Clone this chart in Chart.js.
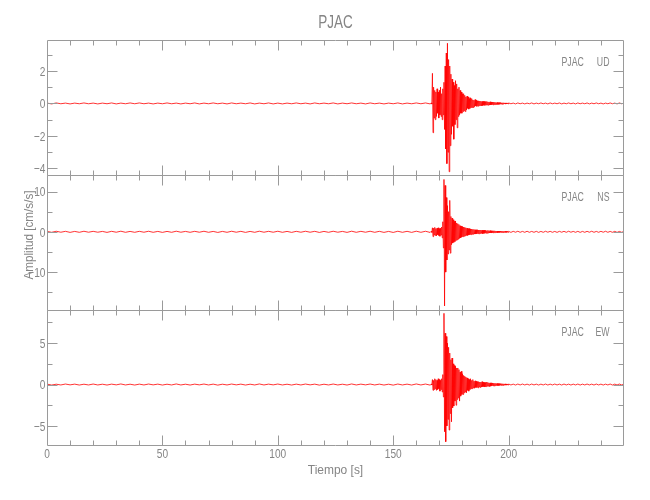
<!DOCTYPE html>
<html>
<head>
<meta charset="utf-8">
<title>PJAC</title>
<script src="https://cdn.jsdelivr.net/npm/chart.js@4/dist/chart.umd.min.js"></script>
<style>
  html, body { margin: 0; padding: 0; background: #ffffff; }
  #wrap { width: 650px; height: 500px; }
</style>
</head>
<body>
<div id="wrap"><canvas id="c" width="650" height="500"></canvas></div>
<script>
// ---------------- data ----------------
const stationName = 'PJAC';
const componentNames = ['UD', 'NS', 'EW'];
const xAxisTitle = 'Tiempo [s]';
const yAxisTitle = 'Amplitud [cm/s/s]';

// sampling of the three segments of each trace (seconds)
const quietStart = 0,     quietStep = 2;
const burstStart = 166.5, burstStep = 0.25;
const codaStart  = 200,   codaStep  = 1;

// ---- UD component ----
const udQuiet = [
  0.02,-0.03,0.03,-0.02,0.02,-0.03,0.02,-0.02,0.03,-0.02,
  0.02,-0.03,0.02,-0.02,0.03,-0.03,0.02,-0.02,0.03,-0.02,
  0.03,-0.02,0.02,-0.03,0.02,-0.02,0.03,-0.02,0.02,-0.03,
  0.02,-0.02,0.03,-0.03,0.02,-0.02,0.03,-0.02,0.02,-0.03,
  0.03,-0.02,0.02,-0.02,0.03,-0.03,0.02,-0.02,0.03,-0.03,
  0.02,-0.03,0.02,-0.02,0.03,-0.02,0.02,-0.03,0.03,-0.02,
  0.02,-0.02,0.03,-0.03,0.02,-0.02,0.03,-0.02,0.02,-0.03,
  0.03,-0.02,0.02,-0.03,0.02,-0.02,0.03,-0.03,0.02,-0.02,
  0.03,-0.02,0.03,-0.03
];
const udBurst = [
  0.03,-0.04,
  1.85,-1.8,1.0,-0.9,0.8,-1.0,0.7,-0.8,
  0.9,-0.6,0.7,-0.9,0.8,-0.7,1.0,-0.8,
  0.6,-1.0,0.9,-0.7,
  1.3,-1.6,2.3,-2.8,3.1,-3.7,3.7,-3.0,
  2.7,-4.2,2.3,-2.6,1.8,-1.9,1.5,-1.4,
  1.3,-2.2,1.1,-1.3,1.4,-1.0,1.2,-1.5,
  0.9,-0.8,1.0,-0.7,0.8,-0.6,0.7,-0.6,
  0.6,-0.5,0.6,-0.45,0.5,-0.5,0.4,-0.4,
  0.45,-0.3,0.4,-0.35,0.3,-0.3,0.35,-0.25,
  0.3,-0.25,0.22,-0.25,0.2,-0.2,0.24,-0.16,
  0.2,-0.18,0.15,-0.17,0.16,-0.14,0.15,-0.13,
  0.14,-0.15,0.12,-0.13,0.13,-0.11,0.12,-0.12,
  0.11,-0.1,0.12,-0.1,0.1,-0.11,0.09,-0.1,
  0.1,-0.09,0.09,-0.08,0.08,-0.09,0.08,-0.07,
  0.07,-0.07,0.06,-0.07,0.06,-0.06,0.05,-0.06,
  0.05,-0.05,0.05,-0.04,0.04,-0.05,0.04,-0.04,
  0.04,-0.03,0.03,-0.04,0.03,-0.03,0.03,-0.03
];
const udCoda = [
  0.03,-0.02,0.02,-0.03,0.03,-0.02,0.02,-0.03,0.02,-0.02,
  0.03,-0.03,0.02,-0.02,0.03,-0.02,0.02,-0.03,0.03,-0.02,
  0.02,-0.02,0.03,-0.03,0.02,-0.02,0.03,-0.02,0.02,-0.03,
  0.03,-0.02,0.02,-0.02,0.03,-0.03,0.02,-0.02,0.03,-0.02,
  0.02,-0.03,0.02,-0.02,0.03,-0.02,0.02,-0.03,0.03,-0.02,
  0.02
];

// ---- NS component ----
const nsQuiet = [
  0.1,-0.12,0.14,-0.1,0.12,-0.14,0.1,-0.12,0.14,-0.1,
  0.12,-0.1,0.1,-0.14,0.12,-0.1,0.15,-0.12,0.1,-0.12,
  0.12,-0.1,0.14,-0.12,0.1,-0.14,0.1,-0.12,0.15,-0.1,
  0.1,-0.12,0.12,-0.1,0.14,-0.12,0.1,-0.15,0.1,-0.12,
  0.14,-0.1,0.12,-0.14,0.1,-0.12,0.15,-0.1,0.12,-0.1,
  0.14,-0.12,0.1,-0.14,0.12,-0.1,0.14,-0.1,0.12,-0.15,
  0.1,-0.12,0.14,-0.1,0.1,-0.14,0.15,-0.12,0.12,-0.1,
  0.14,-0.12,0.12,-0.14,0.1,-0.15,0.14,-0.12,0.12,-0.14,
  0.15,-0.12,0.14,-0.15
];
const nsBurst = [
  0.15,-0.15,
  1.0,-1.2,0.9,-0.8,1.1,-0.9,0.8,-1.0,
  0.9,-0.7,1.0,-0.9,0.8,-1.1,0.9,-0.8,
  1.2,-1.5,2.5,-4.0,
  13.0,-18.4,11.5,-10.0,8.5,-7.0,6.5,-5.5,
  5.0,-4.5,7.8,-5.3,3.8,-3.2,3.4,-2.8,
  3.0,-2.6,2.6,-2.4,2.7,-2.1,2.2,-2.0,
  2.0,-1.8,1.8,-1.6,1.5,-1.5,1.4,-1.3,
  1.3,-1.2,1.2,-1.1,1.1,-1.0,1.0,-0.9,
  0.9,-0.9,0.8,-0.8,0.8,-0.7,0.7,-0.7,
  0.7,-0.6,0.6,-0.6,0.6,-0.55,0.5,-0.55,
  0.5,-0.5,0.5,-0.45,0.45,-0.5,0.45,-0.4,
  0.45,-0.4,0.4,-0.45,0.4,-0.4,0.4,-0.35,
  0.35,-0.35,0.3,-0.35,0.35,-0.3,0.3,-0.3,
  0.3,-0.25,0.25,-0.3,0.25,-0.25,0.25,-0.2,
  0.25,-0.2,0.2,-0.2,0.2,-0.2,0.2,-0.18,
  0.2,-0.18,0.18,-0.15,0.18,-0.15,0.15,-0.18,
  0.15,-0.15,0.15,-0.14,0.14,-0.15,0.14,-0.12
];
const nsCoda = [
  0.12,-0.14,0.12,-0.1,0.14,-0.12,0.1,-0.12,0.14,-0.12,
  0.1,-0.12,0.12,-0.14,0.1,-0.12,0.14,-0.1,0.12,-0.12,
  0.1,-0.14,0.12,-0.1,0.12,-0.12,0.14,-0.1,0.1,-0.12,
  0.12,-0.14,0.1,-0.12,0.12,-0.1,0.14,-0.12,0.1,-0.12,
  0.12,-0.1,0.14,-0.12,0.1,-0.12,0.12,-0.14,0.1,-0.12,
  0.12
];

// ---- EW component ----
const ewQuiet = [
  0.05,-0.06,0.04,-0.05,0.06,-0.04,0.05,-0.06,0.04,-0.05,
  0.06,-0.05,0.04,-0.06,0.05,-0.04,0.07,-0.05,0.04,-0.06,
  0.05,-0.05,0.06,-0.04,0.05,-0.06,0.04,-0.05,0.07,-0.05,
  0.04,-0.06,0.05,-0.04,0.06,-0.05,0.05,-0.07,0.04,-0.05,
  0.06,-0.04,0.05,-0.06,0.04,-0.05,0.07,-0.05,0.05,-0.04,
  0.06,-0.05,0.04,-0.06,0.05,-0.05,0.06,-0.04,0.05,-0.07,
  0.04,-0.05,0.06,-0.05,0.04,-0.06,0.07,-0.05,0.05,-0.04,
  0.06,-0.05,0.05,-0.06,0.04,-0.07,0.06,-0.05,0.05,-0.06,
  0.07,-0.05,0.06,-0.07
];
const ewBurst = [
  0.06,-0.06,
  0.6,-0.7,0.5,-0.6,0.7,-0.5,0.6,-0.7,
  0.5,-0.6,0.7,-0.5,0.6,-0.8,0.5,-0.6,
  0.7,-0.9,1.2,-1.5,
  8.6,-5.7,6.2,-6.9,5.8,-5.0,5.0,-4.2,
  4.5,-5.5,3.8,-3.5,3.0,-4.5,3.2,-2.8,
  2.5,-2.6,2.3,-2.0,2.2,-2.5,2.0,-1.8,
  2.0,-1.6,1.8,-2.0,1.5,-1.4,1.6,-1.2,
  1.3,-1.2,1.1,-1.0,1.0,-0.9,0.9,-1.0,
  0.8,-0.7,0.7,-0.8,0.6,-0.6,0.7,-0.5,
  0.5,-0.5,0.6,-0.4,0.4,-0.45,0.45,-0.35,
  0.4,-0.35,0.35,-0.4,0.35,-0.3,0.3,-0.35,
  0.3,-0.3,0.35,-0.25,0.3,-0.25,0.25,-0.3,
  0.25,-0.25,0.3,-0.2,0.25,-0.2,0.2,-0.25,
  0.2,-0.2,0.2,-0.16,0.18,-0.16,0.16,-0.18,
  0.15,-0.14,0.15,-0.12,0.13,-0.12,0.12,-0.13,
  0.11,-0.1,0.1,-0.1,0.1,-0.09,0.09,-0.1,
  0.08,-0.08,0.08,-0.07,0.07,-0.07,0.07,-0.06
];
const ewCoda = [
  0.06,-0.05,0.05,-0.06,0.06,-0.05,0.06,-0.05,0.05,-0.06,
  0.06,-0.05,0.05,-0.06,0.05,-0.05,0.06,-0.06,0.05,-0.05,
  0.06,-0.05,0.05,-0.06,0.06,-0.05,0.05,-0.06,0.05,-0.05,
  0.06,-0.06,0.05,-0.05,0.06,-0.05,0.05,-0.06,0.06,-0.05,
  0.05,-0.06,0.05,-0.05,0.06,-0.06,0.05,-0.05,0.06,-0.05,
  0.05
];

// ---- axes ----
const xRange = [0, 250];
const xTickValues = [0, 50, 100, 150, 200];
const xTickLabels = ['0', '50', '100', '150', '200'];
const xMinorStep = 10;

const udRange = [-4.4, 3.9];
const udTickValues = [-4, -2, 0, 2];
const udTickLabels = ['\u22124', '\u22122', '0', '2'];
const udMinorStep = 1;

const nsRange = [-19.4, 14.1];
const nsTickValues = [-10, 0, 10];
const nsTickLabels = ['\u221210', '0', '10'];
const nsMinorStep = 5;

const ewRange = [-7.3, 9.0];
const ewTickValues = [-5, 0, 5];
const ewTickLabels = ['\u22125', '0', '5'];
const ewMinorStep = 2.5;

// ---------------- build ----------------
const TFONT = "'Liberation Sans', Arial, sans-serif";
const TXT = '#858585';
const FRAME = '#9a9a9a';

function toPoints(quiet, burst, coda) {
  const pts = [];
  quiet.forEach((v, i) => pts.push({x: quietStart + i * quietStep, y: v}));
  burst.forEach((v, i) => pts.push({x: burstStart + i * burstStep, y: v}));
  coda.forEach((v, i) => pts.push({x: codaStart + i * codaStep, y: v}));
  return pts;
}

const panels = [
  {id: 'yUD', name: componentNames[0], range: udRange, ticks: udTickValues, labels: udTickLabels, minor: udMinorStep, data: toPoints(udQuiet, udBurst, udCoda)},
  {id: 'yNS', name: componentNames[1], range: nsRange, ticks: nsTickValues, labels: nsTickLabels, minor: nsMinorStep, data: toPoints(nsQuiet, nsBurst, nsCoda)},
  {id: 'yEW', name: componentNames[2], range: ewRange, ticks: ewTickValues, labels: ewTickLabels, minor: ewMinorStep, data: toPoints(ewQuiet, ewBurst, ewCoda)}
];

function yScale(p) {
  return {
    type: 'linear',
    position: 'left',
    stack: 'panels',
    stackWeight: 1,
    min: p.range[0],
    max: p.range[1],
    grid: {display: false, drawTicks: false},
    border: {display: false},
    afterBuildTicks: s => { s.ticks = p.ticks.map(v => ({value: v})); },
    afterFit: s => { s.width = 47; },
    ticks: {display: false}
  };
}

const scales = {
  x: {
    type: 'linear',
    position: 'bottom',
    min: xRange[0],
    max: xRange[1],
    grid: {display: false, drawTicks: false},
    border: {display: false},
    afterBuildTicks: s => { s.ticks = xTickValues.map(v => ({value: v})); },
    afterFit: s => { s.height = 55; },
    ticks: {display: false}
  }
};
// last-declared stacked axis is placed on top
[panels[2], panels[1], panels[0]].forEach(p => { scales[p.id] = yScale(p); });

function minorValues(lo, hi, step) {
  const out = [];
  const start = Math.ceil(lo / step) * step;
  for (let v = start; v <= hi + 1e-9; v += step) out.push(Math.round(v * 1000) / 1000);
  return out;
}

function narrowText(ctx, text, x, y, size, sx, align) {
  ctx.save();
  ctx.translate(x, y);
  ctx.scale(sx, 1);
  ctx.font = size + 'px ' + TFONT;
  ctx.textAlign = align;
  ctx.fillText(text, 0, 0);
  ctx.restore();
}

const decorPlugin = {
  id: 'decor',
  afterDatasetsDraw(chart) {
    const ctx = chart.ctx;
    const ca = chart.chartArea;
    const xs = chart.scales.x;
    const L = Math.round(ca.left) + 0.5;
    const R = Math.round(ca.right) - 0.5;
    ctx.save();
    ctx.strokeStyle = FRAME;
    ctx.lineWidth = 1;
    const xMinor = minorValues(xRange[0], xRange[1], xMinorStep);
    panels.forEach(p => {
      const ys = chart.scales[p.id];
      const T = Math.round(ys.top) + 0.5;
      const B = Math.round(ys.bottom) + 0.5;
      ctx.beginPath();
      ctx.rect(L, T, R - L, B - T);
      xMinor.forEach(v => {
        const px = Math.round(xs.getPixelForValue(v)) + 0.5;
        if (px <= L + 1 || px >= R - 1) return;
        const len = xTickValues.includes(v) ? 10 : 5;
        ctx.moveTo(px, T); ctx.lineTo(px, T + len);
        ctx.moveTo(px, B); ctx.lineTo(px, B - len);
      });
      minorValues(p.range[0], p.range[1], p.minor).forEach(v => {
        const py = Math.round(ys.getPixelForValue(v)) + 0.5;
        const len = p.ticks.includes(v) ? 10 : 5;
        ctx.moveTo(L, py); ctx.lineTo(L + len, py);
        ctx.moveTo(R, py); ctx.lineTo(R - len, py);
      });
      ctx.stroke();

      ctx.fillStyle = TXT;
      ctx.textBaseline = 'alphabetic';
      // y tick labels, from the scale's own ticks
      ys.ticks.forEach((t, i) => {
        const py = ys.getPixelForValue(t.value);
        narrowText(ctx, p.labels[i], ca.left - 1.5, py + 4.8, 13.5, 0.75, 'right');
      });
      // station / component label
      narrowText(ctx, stationName, ca.right - 62.5, ys.top + 26, 12.5, 0.7, 'left');
      narrowText(ctx, p.name, ca.right - 14.5, ys.top + 26, 12.5, 0.7, 'right');
    });

    ctx.fillStyle = TXT;
    ctx.textBaseline = 'alphabetic';
    // x tick labels
    xs.ticks.forEach((t, i) => {
      const px = xs.getPixelForValue(t.value);
      narrowText(ctx, xTickLabels[i], px, ca.bottom + 13, 13.5, 0.75, 'center');
    });
    narrowText(ctx, stationName, (ca.left + ca.right) / 2, 28, 18, 0.75, 'center');
    narrowText(ctx, xAxisTitle, (ca.left + ca.right) / 2, 474, 13, 0.92, 'center');

    ctx.save();
    ctx.translate(33, 235);
    ctx.rotate(-Math.PI / 2);
    narrowText(ctx, yAxisTitle, 0, 0, 13, 0.9, 'center');
    ctx.restore();
    ctx.restore();
  }
};

new Chart(document.getElementById('c'), {
  type: 'line',
  data: {
    datasets: panels.map(p => ({
      label: stationName + ' ' + p.name,
      data: p.data,
      yAxisID: p.id,
      xAxisID: 'x',
      borderColor: '#ff0000',
      borderWidth: 0.8,
      pointRadius: 0,
      tension: 0,
      fill: false
    }))
  },
  options: {
    responsive: false,
    devicePixelRatio: 1,
    animation: false,
    parsing: false,
    normalized: true,
    layout: {padding: {top: 40, right: 26, left: 0, bottom: 0}},
    plugins: {
      legend: {display: false},
      title: {display: false},
      tooltip: {enabled: false}
    },
    scales: scales
  },
  plugins: [decorPlugin]
});
</script>
</body>
</html>
